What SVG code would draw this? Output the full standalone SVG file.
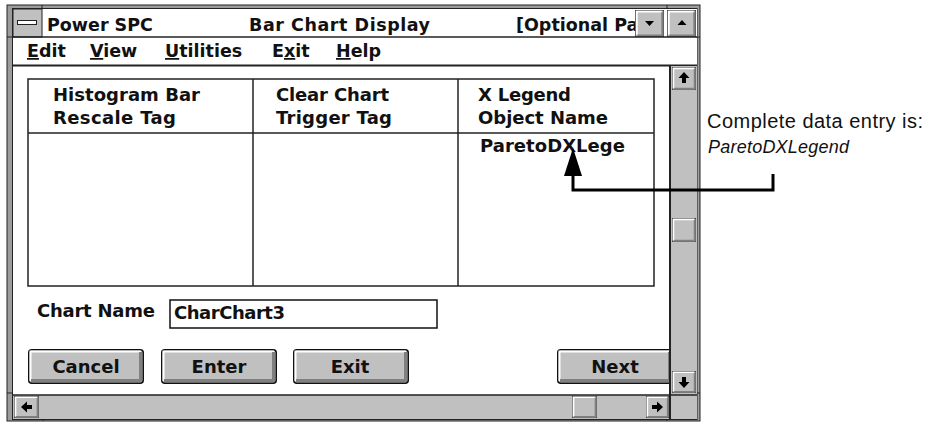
<svg xmlns="http://www.w3.org/2000/svg" width="932" height="422" viewBox="0 0 932 422">
  <style>
    .ui { font-family: "DejaVu Sans", "Liberation Sans", sans-serif; font-weight: bold; font-size: 18px; fill: #111; }
    .menu { font-family: "DejaVu Sans", "Liberation Sans", sans-serif; font-weight: bold; font-size: 17.5px; fill: #111; }
    .btxt { font-family: "DejaVu Sans", "Liberation Sans", sans-serif; font-weight: bold; font-size: 18px; fill: #111; text-anchor: middle; }
    .note { font-family: "Liberation Sans", Arial, sans-serif; font-size: 20px; fill: #111; }
    .noteit { font-family: "Liberation Sans", Arial, sans-serif; font-size: 18px; font-style: italic; fill: #111; }
    .u { text-decoration: underline; }
    .line { stroke: #222; stroke-width: 1.5; fill: none; }
    .gray { fill: #c0c0c0; }
    .glyph { fill: #000; }
    .conn { stroke: #000; stroke-width: 3; fill: none; }
  </style>
  <defs>
    <!-- raised 3D push button face -->
    <symbol id="pushbtn" viewBox="0 0 116 35" width="116" height="35">
      <rect x="0.75" y="0.75" width="114.5" height="33.5" rx="3" fill="#c0c0c0" stroke="#111" stroke-width="1.5"/>
      <path d="M2.5,32 V2.5 H113" stroke="#fff" stroke-width="2" fill="none"/>
      <path d="M3,31.5 H112.5 V3" stroke="#808080" stroke-width="3" fill="none"/>
    </symbol>
    <!-- small bevelled box used for scroll arrows and thumbs -->
    <symbol id="bevel" viewBox="0 0 24 24" width="24" height="24" preserveAspectRatio="none">
      <rect x="0" y="0" width="24" height="24" fill="#c0c0c0" stroke="#222" stroke-width="1"/>
      <path d="M1.5,22 V1.5 H22" stroke="#fff" stroke-width="1.5" fill="none"/>
      <path d="M2,22.5 H22.5 V2" stroke="#808080" stroke-width="1.5" fill="none"/>
    </symbol>
    <marker id="arrowhead" markerUnits="userSpaceOnUse" viewBox="0 0 28 18" markerWidth="28" markerHeight="18" refX="6" refY="9" orient="auto">
      <path d="M0,0 L28,9 L0,18 Z" fill="#000"/>
    </marker>
  </defs>

  <rect x="0" y="0" width="932" height="422" fill="#fff"/>

  <!-- window frame -->
  <g id="window-frame">
    <rect x="7" y="5" width="693" height="416" fill="#9c9c9c" stroke="#222" stroke-width="1"/>
    <rect x="12.5" y="8.5" width="684.5" height="411" fill="#fff" stroke="#222" stroke-width="1"/>
    <!-- resize corner marks -->
    <path d="M42,5 V9 M7,37 H13 M667,5 V9 M697,37 H700 M43,419 V421 M667,419 V421 M697,393 H700 M7,393 H13" stroke="#222" stroke-width="1"/>
  </g>

  <!-- title bar -->
  <g id="title-bar">
    <rect x="13" y="9" width="684" height="28" fill="#fff"/>
    <text class="menu" x="47" y="31">Power SPC</text>
    <text class="menu" x="249" y="31" textLength="181">Bar Chart Display</text>
    <text class="menu" x="516" y="31">[Optional Pa</text>
    <!-- system menu box -->
    <rect x="13" y="9" width="29" height="28" class="gray" stroke="#222" stroke-width="1"/>
    <rect x="17.5" y="20.5" width="19" height="4" fill="#fff" stroke="#222" stroke-width="1"/>
    <!-- minimize / maximize -->
    <use href="#bevel" x="635" y="10" width="29" height="27"/>
    <path class="glyph" d="M645,21 H654 L649.5,26 Z"/>
    <use href="#bevel" x="667" y="10" width="29" height="27"/>
    <path class="glyph" d="M677.5,25 H686.5 L682,20 Z"/>
    <line x1="13" y1="37" x2="697" y2="37" class="line"/>
  </g>

  <!-- menu bar -->
  <g id="menu-bar">
    <rect x="13" y="38" width="684" height="27" fill="#fff"/>
    <text class="menu" x="27" y="57"><tspan class="u">E</tspan>dit</text>
    <text class="menu" x="90" y="57"><tspan class="u">V</tspan>iew</text>
    <text class="menu" x="165" y="57"><tspan class="u">U</tspan>tilities</text>
    <text class="menu" x="272" y="57">E<tspan class="u">x</tspan>it</text>
    <text class="menu" x="336" y="57"><tspan class="u">H</tspan>elp</text>
    <line x1="13" y1="65.5" x2="697" y2="65.5" stroke="#222" stroke-width="2"/>
  </g>

  <!-- parameter table -->
  <g id="param-table">
    <rect x="28" y="79" width="626" height="207" class="line"/>
    <line x1="253" y1="79" x2="253" y2="286" class="line"/>
    <line x1="458" y1="79" x2="458" y2="286" class="line"/>
    <line x1="28" y1="133" x2="654" y2="133" class="line"/>
    <text class="ui" x="53" y="101" textLength="147">Histogram Bar</text>
    <text class="ui" x="53" y="124" textLength="123">Rescale Tag</text>
    <text class="ui" x="276" y="101" textLength="113">Clear Chart</text>
    <text class="ui" x="276" y="124" textLength="116">Trigger Tag</text>
    <text class="ui" x="478" y="101" textLength="93">X Legend</text>
    <text class="ui" x="478" y="124" textLength="130">Object Name</text>
    <text class="ui" x="480" y="152" textLength="145">ParetoDXLege</text>
  </g>

  <!-- chart name field -->
  <g id="chart-name">
    <text class="ui" x="37" y="317" textLength="118">Chart Name</text>
    <rect x="170" y="300" width="267" height="28" fill="#fff" stroke="#111" stroke-width="1.5"/>
    <text class="ui" x="174" y="319" textLength="111">CharChart3</text>
  </g>

  <!-- push buttons -->
  <g id="btn-cancel">
    <use href="#pushbtn" x="28" y="349"/>
    <text class="btxt" x="86" y="373">Cancel</text>
  </g>
  <g id="btn-enter">
    <use href="#pushbtn" x="161" y="349"/>
    <text class="btxt" x="219" y="373">Enter</text>
  </g>
  <g id="btn-exit">
    <use href="#pushbtn" x="293" y="349"/>
    <text class="btxt" x="350" y="373">Exit</text>
  </g>
  <g id="btn-next">
    <use href="#pushbtn" x="557" y="349"/>
    <text class="btxt" x="615" y="373">Next</text>
  </g>

  <!-- vertical scroll bar -->
  <g id="vscroll">
    <rect x="670" y="66" width="27" height="329" class="gray"/>
    <line x1="670" y1="66" x2="670" y2="395" stroke="#222" stroke-width="2"/>
    <use href="#bevel" x="672" y="67" width="24" height="23"/>
    <path class="glyph" d="M684,72 L689.5,78 H686 V83 H682 V78 H678.5 Z"/>
    <use href="#bevel" x="672" y="218" width="24" height="24"/>
    <use href="#bevel" x="672" y="371" width="24" height="22"/>
    <path class="glyph" d="M684,388 L689.5,382 H686 V377 H682 V382 H678.5 Z"/>
  </g>

  <!-- horizontal scroll bar -->
  <g id="hscroll">
    <rect x="13" y="395" width="684" height="24" class="gray"/>
    <line x1="13" y1="395" x2="697" y2="395" stroke="#222" stroke-width="1.5"/>
    <use href="#bevel" x="14" y="396" width="25" height="22"/>
    <path class="glyph" d="M21,407 L27,401.5 V405 H32 V409 H27 V412.5 Z"/>
    <use href="#bevel" x="572" y="396" width="25" height="22"/>
    <use href="#bevel" x="646" y="396" width="23" height="22"/>
    <path class="glyph" d="M663,407 L657,401.5 V405 H652 V409 H657 V412.5 Z"/>
    <line x1="670" y1="395" x2="670" y2="419" stroke="#222" stroke-width="2"/>
  </g>

  <!-- callout -->
  <g id="callout-note">
    <text class="note" x="707" y="128" textLength="216">Complete data entry is:</text>
    <text class="noteit" x="708" y="153" textLength="141">ParetoDXLegend</text>
  </g>

  <g id="connectors">
    <path class="conn" d="M773,174 V190 H573 V170" marker-end="url(#arrowhead)"/>
  </g>
</svg>
